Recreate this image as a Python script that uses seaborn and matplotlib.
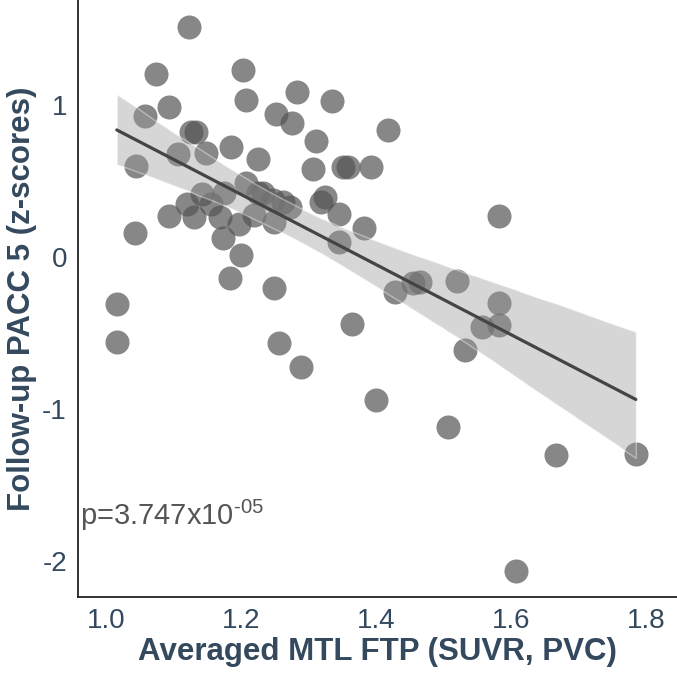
import numpy as np
import pandas as pd
import matplotlib
matplotlib.use("Agg")
import matplotlib.pyplot as plt
import seaborn as sns

# values
mtl_ftp = [1.123, 1.074, 1.203, 1.207, 1.283, 1.335, 1.093, 1.058, 1.252, 1.276,
           1.418, 1.126, 1.133, 1.311, 1.185, 1.107, 1.148, 1.225, 1.044, 1.307,
           1.351, 1.359, 1.393, 1.207, 1.225, 1.233, 1.247, 1.262, 1.273, 1.142,
           1.175, 1.120, 1.156, 1.324, 1.319, 1.093, 1.130, 1.169, 1.197, 1.219,
           1.249, 1.345, 1.382, 1.043, 1.173, 1.345, 1.200, 1.184, 1.249, 1.428,
           1.455, 1.465, 1.520, 1.582, 1.582, 1.582, 1.557, 1.532, 1.364, 1.016,
           1.016, 1.256, 1.289, 1.400, 1.507, 1.667, 1.785, 1.607]
pacc5 = [1.513, 1.204, 1.230, 1.033, 1.086, 1.026, 0.987, 0.928, 0.941, 0.882,
         0.836, 0.822, 0.822, 0.763, 0.724, 0.678, 0.684, 0.645, 0.599, 0.579,
         0.592, 0.592, 0.592, 0.487, 0.421, 0.421, 0.375, 0.362, 0.329, 0.414,
         0.421, 0.349, 0.349, 0.395, 0.362, 0.270, 0.263, 0.263, 0.217, 0.276,
         0.230, 0.283, 0.191, 0.158, 0.125, 0.099, 0.013, -0.138, -0.204, -0.230,
         -0.171, -0.164, -0.158, 0.270, -0.303, -0.447, -0.461, -0.612, -0.441, -0.309,
         -0.559, -0.566, -0.724, -0.941, -1.118, -1.303, -1.296, -2.066]
x_ticks = [1.0, 1.2, 1.4, 1.6, 1.8]
y_ticks = [-2, -1, 0, 1]

df = pd.DataFrame({"ftp": mtl_ftp, "pacc": pacc5})

sns.set_style("white")
plt.rcParams["font.family"] = ["Liberation Sans", "DejaVu Sans"]
plt.rcParams["mathtext.fontset"] = "custom"
plt.rcParams["mathtext.rm"] = "Liberation Sans"
plt.rcParams["mathtext.it"] = "Liberation Sans"

txt_color = "#34495e"

fig = plt.figure(figsize=(6.77, 6.77), dpi=100)
ax = fig.add_axes([0.1152, 0.1182, 0.8848, 0.8818])

# points first, then the fit line with its confidence band
sns.scatterplot(data=df, x="ftp", y="pacc", ax=ax, s=300, color="#555555",
                alpha=0.7, linewidth=0, legend=False)
sns.regplot(data=df, x="ftp", y="pacc", ax=ax, scatter=False, ci=90, seed=3,
            n_boot=2000, color="#444444", line_kws={"linewidth": 2.3})
band = ax.collections[-1]
band.set_facecolor("#999999")
band.set_alpha(0.4)

ax.set_xlim(0.9585, 1.846)
ax.set_ylim(-2.237, 1.691)
ax.set_xticks(x_ticks)
ax.set_xticklabels(["1.0", "1.2", "1.4", "1.6", "1.8"])
ax.set_yticks(y_ticks)
ax.set_yticklabels(["-2", "-1", "0", "1"])
ax.tick_params(axis="both", length=0, labelsize=20, labelcolor=txt_color, pad=8)

ax.set_xlabel("Averaged MTL FTP (SUVR, PVC)", fontsize=22.5, fontweight="bold",
              color=txt_color, labelpad=2)
ax.set_ylabel("Follow-up PACC 5 (z-scores)", fontsize=22.5, fontweight="bold",
              color=txt_color, labelpad=4)

for side in ["top", "right"]:
    ax.spines[side].set_visible(False)
for side in ["left", "bottom"]:
    ax.spines[side].set_color("#222222")
    ax.spines[side].set_linewidth(1.3)

ax.text(0.961, -1.763, "p=3.747x10$^{\u2010 05}$", fontsize=21, color="#555555",
        ha="left", va="baseline")

fig.savefig("out.png", dpi=100)
